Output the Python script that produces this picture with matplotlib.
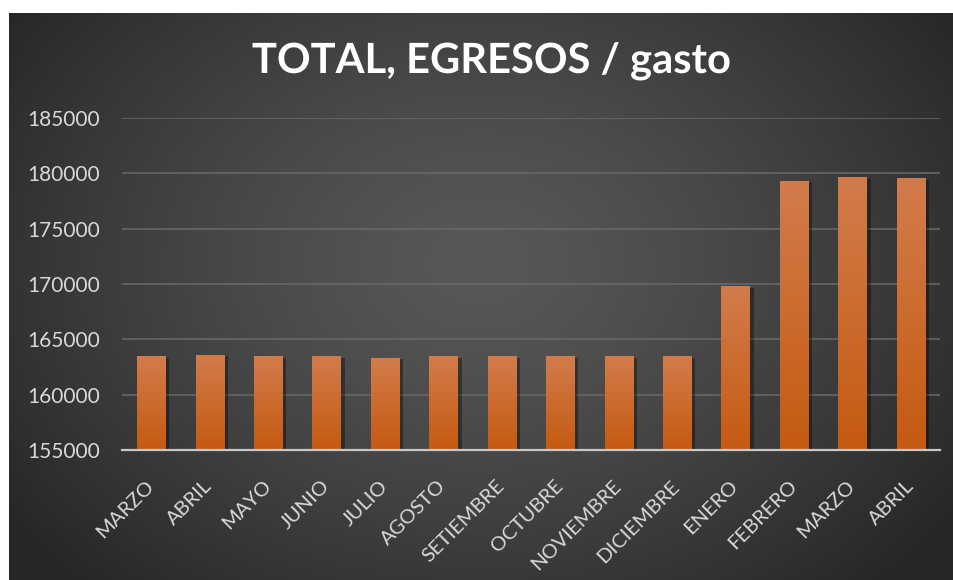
import numpy as np
import matplotlib
matplotlib.use("Agg")
import matplotlib.pyplot as plt
import matplotlib.patheffects as pe
from matplotlib.colors import LinearSegmentedColormap

# ---- data ----
months = ["MARZO", "ABRIL", "MAYO", "JUNIO", "JULIO", "AGOSTO", "SETIEMBRE",
          "OCTUBRE", "NOVIEMBRE", "DICIEMBRE", "ENERO", "FEBRERO", "MARZO", "ABRIL"]
values = [163460, 163600, 163460, 163460, 163340, 163460, 163460,
          163460, 163450, 163450, 169780, 179300, 179650, 179540]
yticks = [155000, 160000, 165000, 170000, 175000, 180000, 185000]
title = "TOTAL, EGRESOS / gasto"

FONT = "Lato"
W, H = 954, 580
fig = plt.figure(figsize=(W / 100, H / 100), dpi=100, facecolor="white")

# ---- radial gradient background panel ----
px0, py0 = 9, 13
bg = fig.add_axes([px0 / W, 0, 1 - px0 / W, 1 - py0 / H])
bg.axis("off")
h, w = H - py0, W - px0
yy, xx = np.mgrid[0:h, 0:w]
cx, cy = 470, 250
r = np.sqrt(((xx - cx) / (w * 0.62)) ** 2 + ((yy - cy) / (h * 0.78)) ** 2)
r = np.clip(r, 0, 1)
lum = 0.345 - (0.345 - 0.150) * r ** 1.3
img = np.dstack([lum, lum, lum])
bg.imshow(img, aspect="auto", interpolation="bilinear")

# ---- main axes ----
ax = fig.add_axes([122 / W, 1 - 450 / H, (940 - 122) / W, (450 - 118) / H])
ax.set_facecolor("none")
x = np.arange(len(values))
bars = ax.bar(x, values, width=0.48, color="#c95f1c", zorder=3,
              path_effects=[pe.SimplePatchShadow(offset=(3, -1), shadow_rgbFace="black", alpha=0.35),
                            pe.Normal()])
ax.set_ylim(yticks[0], yticks[-1])
ax.set_xlim(-0.5, len(values) - 0.5)

cmap = LinearSegmentedColormap.from_list("org", ["#c55a11", "#d27c4c"])
grad = np.linspace(0, 1, 256).reshape(-1, 1)
for b in bars:
    x0 = b.get_x()
    x1 = x0 + b.get_width()
    top = b.get_y() + b.get_height()
    im = ax.imshow(grad, cmap=cmap, origin="lower", aspect="auto",
                   extent=(x0, x1, yticks[0], top), zorder=4, interpolation="bilinear")
    im.set_clip_path(b)
ax.set_xlim(-0.5, len(values) - 0.5)
ax.set_ylim(yticks[0], yticks[-1])

ax.set_yticks(yticks)
ax.set_yticklabels([str(t) for t in yticks], fontsize=15, color="#d9d9d9", family=FONT)
ax.set_xticks(x)
ax.set_xticklabels(months, rotation=45, ha="right", va="center", rotation_mode="anchor",
                   fontsize=14.5, color="#d9d9d9", family=FONT)
ax.tick_params(axis="both", length=0)
ax.tick_params(axis="y", pad=16)
ax.tick_params(axis="x", pad=24)
ax.grid(axis="y", color="#6a6a6a", linewidth=1.1, zorder=0)
ax.set_axisbelow(True)
for s in ["left", "right", "top"]:
    ax.spines[s].set_visible(False)
ax.spines["bottom"].set_color("#c8c8c8")
ax.spines["bottom"].set_linewidth(1.6)
ax.spines["bottom"].set_zorder(5)

fig.text(491 / W, 1 - 73 / H, title, ha="center", va="baseline", color="white",
         fontsize=30, fontweight="bold", family=FONT,
         path_effects=[pe.withSimplePatchShadow(offset=(1.5, -1.5), shadow_rgbFace="black", alpha=0.6)]
         if False else [pe.SimpleLineShadow(offset=(1.5, -1.5), shadow_color="black", alpha=0.6), pe.Normal()])

fig.savefig("out.png", dpi=100, facecolor="white")
